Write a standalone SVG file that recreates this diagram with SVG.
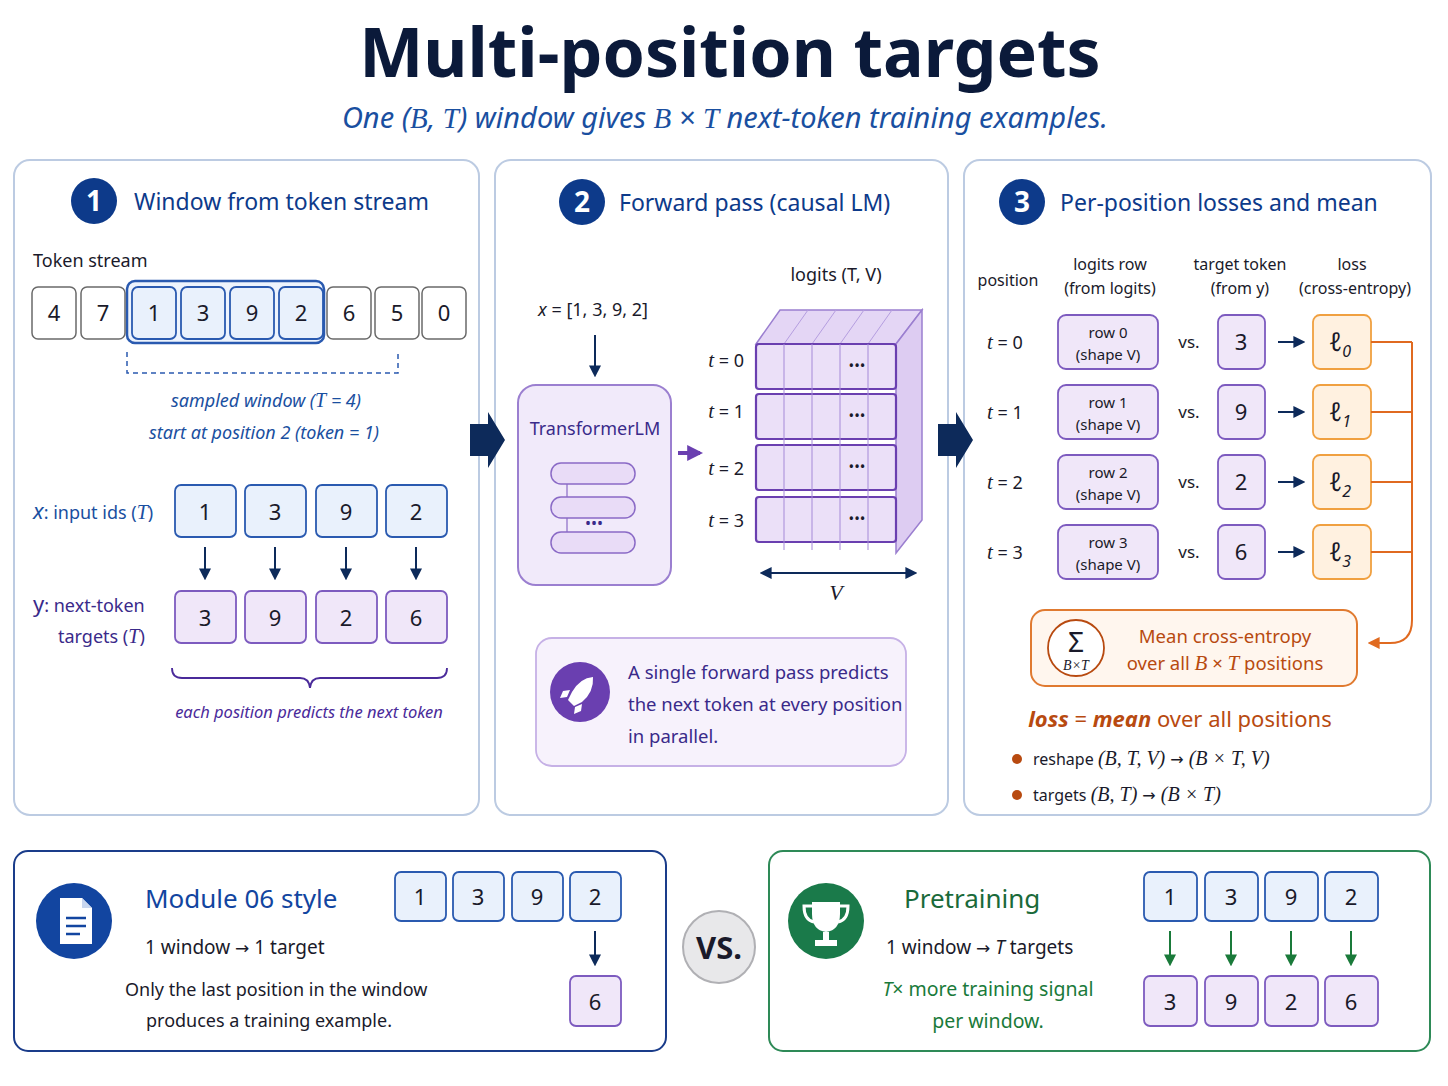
<svg xmlns="http://www.w3.org/2000/svg" width="1448" height="1086" viewBox="0 0 1448 1086">
<defs>
<style>
text{font-family:"Noto Sans","Open Sans",sans-serif;}
.panel{fill:#fff;stroke:#bccbe2;stroke-width:2}
.num{fill:#0d3a8a}
.numt{fill:#fff;font-size:28px;font-weight:bold;text-anchor:middle}
.ptitle{fill:#0d3a8a;font-size:23px}
.tok{fill:#fff;stroke:#6a6a6a;stroke-width:1.5}
.bl{fill:#e9f1fc;stroke:#2a5ab0;stroke-width:1.8}
.pu{fill:#f0e7f9;stroke:#7d5bbf;stroke-width:1.8}
.or{fill:#fff1e0;stroke:#f0a040;stroke-width:1.8}
.bt{font-size:22px;text-anchor:middle;fill:#1a1a2a}
.c{text-anchor:middle}
.lab{font-size:18px;fill:#1a1a2a}
.dark{stroke:#0d2a5a;stroke-width:2;fill:none}
.it{font-style:italic}
.m{font-family:"Liberation Serif",serif;font-style:italic}
.ar{font-family:"DejaVu Sans",sans-serif}
</style>
<marker id="ad" viewBox="0 0 10 10" refX="8" refY="5" markerWidth="6" markerHeight="6" orient="auto-start-reverse"><path d="M0,0L10,5L0,10z" fill="#0d2a5a"/></marker>
<marker id="ag" viewBox="0 0 10 10" refX="8" refY="5" markerWidth="6" markerHeight="6" orient="auto"><path d="M0,0L10,5L0,10z" fill="#1a7a3a"/></marker>
<marker id="ap" viewBox="0 0 10 10" refX="8" refY="5" markerWidth="4" markerHeight="4" orient="auto"><path d="M0,0L10,5L0,10z" fill="#6a3fb0"/></marker>
<marker id="ao" viewBox="0 0 10 10" refX="8" refY="5" markerWidth="6" markerHeight="6" orient="auto"><path d="M0,0L10,5L0,10z" fill="#e06a20"/></marker>
</defs>

<text x="730" y="77" class="c" font-size="68" font-weight="bold" fill="#0b1a3a">Multi-position targets</text>
<text x="725" y="128" class="c it" font-size="29" fill="#1a4fa0">One (<tspan class="m">B</tspan>, <tspan class="m">T</tspan>) window gives <tspan class="m">B</tspan> × <tspan class="m">T</tspan> next-token training examples.</text>

<g id="panel1">
<rect class="panel" x="14" y="160" width="465" height="655" rx="16"/>
<circle class="num" cx="94" cy="201" r="23"/><text class="numt" x="94" y="211">1</text>
<text class="ptitle" x="134" y="210">Window from token stream</text>
<text x="33" y="267" class="lab">Token stream</text>
<rect x="127" y="281" width="197" height="62" rx="8" fill="#eef4fd" stroke="#2a5ab0" stroke-width="2.5"/>
<rect class="tok" x="32" y="287" width="44" height="52" rx="6"/><text class="bt" x="54" y="321">4</text>
<rect class="tok" x="81" y="287" width="44" height="52" rx="6"/><text class="bt" x="103" y="321">7</text>
<rect class="bl" x="132" y="287" width="44" height="52" rx="6"/><text class="bt" x="154" y="321">1</text>
<rect class="bl" x="181" y="287" width="44" height="52" rx="6"/><text class="bt" x="203" y="321">3</text>
<rect class="bl" x="230" y="287" width="44" height="52" rx="6"/><text class="bt" x="252" y="321">9</text>
<rect class="bl" x="279" y="287" width="44" height="52" rx="6"/><text class="bt" x="301" y="321">2</text>
<rect class="tok" x="327" y="287" width="44" height="52" rx="6"/><text class="bt" x="349" y="321">6</text>
<rect class="tok" x="375" y="287" width="44" height="52" rx="6"/><text class="bt" x="397" y="321">5</text>
<rect class="tok" x="422" y="287" width="44" height="52" rx="6"/><text class="bt" x="444" y="321">0</text>
<path d="M127,352V373H398V352" fill="none" stroke="#2a5ab0" stroke-width="1.5" stroke-dasharray="5,4"/>
<text x="266" y="407" class="c lab it" style="fill:#1a4fa0">sampled window (<tspan class="m" font-size="20">T</tspan> = 4)</text>
<text x="264" y="439" class="c lab it" style="fill:#1a4fa0">start at position 2 (token = 1)</text>
<text x="33" y="519" class="lab" style="fill:#1a4fa0"><tspan class="it" font-size="22">x</tspan>: input ids (<tspan class="m" font-size="20">T</tspan>)</text>
<rect class="bl" x="175" y="485" width="61" height="52" rx="6"/><text class="bt" x="205" y="520">1</text>
<rect class="bl" x="245" y="485" width="61" height="52" rx="6"/><text class="bt" x="275" y="520">3</text>
<rect class="bl" x="316" y="485" width="61" height="52" rx="6"/><text class="bt" x="346" y="520">9</text>
<rect class="bl" x="386" y="485" width="61" height="52" rx="6"/><text class="bt" x="416" y="520">2</text>
<text x="33" y="612" class="lab" style="fill:#3a2a8a"><tspan font-size="22">y</tspan>: next-token</text>
<text x="58" y="643" class="lab" style="fill:#3a2a8a">targets (<tspan class="m" font-size="20">T</tspan>)</text>
<rect class="pu" x="175" y="591" width="61" height="52" rx="6"/><text class="bt" x="205" y="626">3</text>
<rect class="pu" x="245" y="591" width="61" height="52" rx="6"/><text class="bt" x="275" y="626">9</text>
<rect class="pu" x="316" y="591" width="61" height="52" rx="6"/><text class="bt" x="346" y="626">2</text>
<rect class="pu" x="386" y="591" width="61" height="52" rx="6"/><text class="bt" x="416" y="626">6</text>
<path d="M172,668Q172,678 182,678H300Q309,678 310,688Q311,678 320,678H437Q447,678 447,668" fill="none" stroke="#4a2a9a" stroke-width="1.8"/>
<text x="309" y="718" class="c it" font-size="16.5" fill="#4a2a9a">each position predicts the next token</text>
</g>

<g id="panel2">
<rect class="panel" x="495" y="160" width="453" height="655" rx="16"/>
<circle class="num" cx="582" cy="202" r="23"/><text class="numt" x="582" y="212">2</text>
<text class="ptitle" x="619" y="211">Forward pass (causal LM)</text>
<text x="593" y="316" class="c lab" font-size="20"><tspan class="it">x</tspan> = [1, 3, 9, 2]</text>
<g id="transformer">
<rect x="518" y="385" width="153" height="200" rx="18" fill="#f1eafa" stroke="#9b7fd0" stroke-width="2"/>
<text x="595" y="435" class="c" font-size="18" fill="#3a2a8a">TransformerLM</text>
<rect x="551" y="463" width="84" height="21" rx="10" fill="#e9dcf7" stroke="#8a6ac6" stroke-width="1.5"/>
<rect x="551" y="497" width="84" height="21" rx="10" fill="#e9dcf7" stroke="#8a6ac6" stroke-width="1.5"/>
<rect x="551" y="532" width="84" height="21" rx="10" fill="#e9dcf7" stroke="#8a6ac6" stroke-width="1.5"/>
<path d="M567,497V484M567,532V518" stroke="#8a6ac6" stroke-width="1.2"/>
<text x="594" y="529" class="c" font-size="16" fill="#3a2a8a">•••</text>
</g>
<g id="logits">
<text x="836" y="281" class="c lab">logits (T, V)</text>
<path d="M756,344L780,310H922L896,344Z" fill="#e4d6f5" stroke="#9b7fd0" stroke-width="1.5"/>
<path d="M896,344L922,310V520L896,553Z" fill="#ddccf2" stroke="#9b7fd0" stroke-width="1.5"/>
<path d="M784,344L808,310M812,344L836,310M840,344L864,310M868,344L892,310" stroke="#b59ee0" stroke-width="1"/>
<g fill="#ebe0f8" stroke="#6a3fb0" stroke-width="2.2">
<rect x="756" y="344" width="140" height="45" rx="3"/>
<rect x="756" y="394" width="140" height="45" rx="3"/>
<rect x="756" y="445" width="140" height="45" rx="3"/>
<rect x="756" y="497" width="140" height="45" rx="3"/>
</g>
<path d="M784,344V550M812,344V550M840,344V550M868,344V550" stroke="#a58ad8" stroke-width="1"/>
<g class="c" font-size="15" fill="#1a1a2a">
<text x="857" y="371">•••</text><text x="857" y="421">•••</text><text x="857" y="472">•••</text><text x="857" y="524">•••</text>
</g>
<g class="lab" font-size="19" text-anchor="end">
<text x="744" y="367"><tspan class="m" font-size="21">t</tspan> = 0</text>
<text x="744" y="418"><tspan class="m" font-size="21">t</tspan> = 1</text>
<text x="744" y="475"><tspan class="m" font-size="21">t</tspan> = 2</text>
<text x="744" y="527"><tspan class="m" font-size="21">t</tspan> = 3</text>
</g>
<text x="836" y="600" class="c m" font-size="22" fill="#1a1a2a">V</text>
</g>
<rect x="536" y="638" width="370" height="128" rx="16" fill="#f7f2fc" stroke="#c6b1e6" stroke-width="1.8"/>
<circle cx="580" cy="692" r="30" fill="#6a3fb0"/>
<path d="M593,677Q580,678 572,692L568,700L574,706L582,702Q594,692 593,677Z M570,690L563,691L560,698L567,697Z M582,704L581,711L574,714L575,707Z" fill="#fff"/>
<g font-size="18.5" fill="#3a2a8a">
<text x="628" y="679">A single forward pass predicts</text>
<text x="628" y="711">the next token at every position</text>
<text x="628" y="743">in parallel.</text>
</g>
</g>

<g id="panel3">
<rect class="panel" x="964" y="160" width="467" height="655" rx="16"/>
<circle class="num" cx="1022" cy="202" r="23"/><text class="numt" x="1022" y="212">3</text>
<text class="ptitle" x="1060" y="211">Per-position losses and mean</text>
<g class="c" font-size="16" fill="#1a1a2a">
<text x="1008" y="286">position</text>
<text x="1110" y="270">logits row</text><text x="1110" y="294">(from logits)</text>
<text x="1240" y="270">target token</text><text x="1240" y="294">(from y)</text>
<text x="1352" y="270">loss</text><text x="1355" y="294">(cross-entropy)</text>
</g>
<g id="rows">
<g class="lab" font-size="19" text-anchor="middle">
<text x="1005" y="349"><tspan class="m" font-size="21">t</tspan> = 0</text>
<text x="1005" y="419"><tspan class="m" font-size="21">t</tspan> = 1</text>
<text x="1005" y="489"><tspan class="m" font-size="21">t</tspan> = 2</text>
<text x="1005" y="559"><tspan class="m" font-size="21">t</tspan> = 3</text>
</g>
<rect class="pu" x="1058" y="315" width="100" height="54" rx="8"/>
<rect class="pu" x="1058" y="385" width="100" height="54" rx="8"/>
<rect class="pu" x="1058" y="455" width="100" height="54" rx="8"/>
<rect class="pu" x="1058" y="525" width="100" height="54" rx="8"/>
<g class="c" font-size="15" fill="#1a1a2a">
<text x="1108" y="338">row 0</text><text x="1108" y="360">(shape V)</text>
<text x="1108" y="408">row 1</text><text x="1108" y="430">(shape V)</text>
<text x="1108" y="478">row 2</text><text x="1108" y="500">(shape V)</text>
<text x="1108" y="548">row 3</text><text x="1108" y="570">(shape V)</text>
</g>
<g class="c" font-size="17" fill="#1a1a2a">
<text x="1189" y="348">vs.</text><text x="1189" y="418">vs.</text><text x="1189" y="488">vs.</text><text x="1189" y="558">vs.</text>
</g>
<rect class="pu" x="1218" y="315" width="47" height="54" rx="7"/><text class="bt" x="1241" y="350">3</text>
<rect class="pu" x="1218" y="385" width="47" height="54" rx="7"/><text class="bt" x="1241" y="420">9</text>
<rect class="pu" x="1218" y="455" width="47" height="54" rx="7"/><text class="bt" x="1241" y="490">2</text>
<rect class="pu" x="1218" y="525" width="47" height="54" rx="7"/><text class="bt" x="1241" y="560">6</text>
<rect class="or" x="1313" y="315" width="58" height="54" rx="7"/>
<rect class="or" x="1313" y="385" width="58" height="54" rx="7"/>
<rect class="or" x="1313" y="455" width="58" height="54" rx="7"/>
<rect class="or" x="1313" y="525" width="58" height="54" rx="7"/>
<g class="c m" font-size="26" fill="#1a1a2a">
<text x="1340" y="351">ℓ<tspan font-size="16" dy="6">0</tspan></text>
<text x="1340" y="421">ℓ<tspan font-size="16" dy="6">1</tspan></text>
<text x="1340" y="491">ℓ<tspan font-size="16" dy="6">2</tspan></text>
<text x="1340" y="561">ℓ<tspan font-size="16" dy="6">3</tspan></text>
</g>
</g>
<rect x="1031" y="610" width="326" height="76" rx="14" fill="#fff6ee" stroke="#e07a30" stroke-width="2"/>
<circle cx="1076" cy="648" r="28" fill="#fff" stroke="#b84a10" stroke-width="1.8"/>
<text x="1076" y="652" class="c" font-size="28" fill="#1a1a2a">Σ</text>
<text x="1076" y="670" class="c m" font-size="14" fill="#1a1a2a">B×T</text>
<text x="1225" y="643" class="c" font-size="18.5" fill="#b84a10">Mean cross-entropy</text>
<text x="1225" y="670" class="c" font-size="18.5" fill="#b84a10">over all <tspan class="m" font-size="21">B</tspan> × <tspan class="m" font-size="21">T</tspan> positions</text>
<text x="1180" y="727" class="c" font-size="22" fill="#b84a10"><tspan class="it" font-weight="bold">loss</tspan> = <tspan class="it" font-weight="bold">mean</tspan> over all positions</text>
<circle cx="1017" cy="759" r="5" fill="#b84a10"/><circle cx="1017" cy="795" r="5" fill="#b84a10"/>
<text x="1033" y="765" font-size="16" fill="#1a1a2a">reshape <tspan class="m" font-size="20">(B, T, V) <tspan class="ar" font-style="normal" font-size="16">→</tspan> (B × T, V)</tspan></text>
<text x="1033" y="801" font-size="16" fill="#1a1a2a">targets <tspan class="m" font-size="20">(B, T) <tspan class="ar" font-style="normal" font-size="16">→</tspan> (B × T)</tspan></text>
</g>

<g id="bottom-left">
<rect x="14" y="851" width="652" height="200" rx="14" fill="#fff" stroke="#1a3c8a" stroke-width="2"/>
<circle cx="74" cy="921" r="38" fill="#1245a0"/>
<path d="M60,898H82L92,908V944H60Z" fill="#fff"/><path d="M82,898V908H92" fill="#c8d6ef"/>
<path d="M66,918H86M66,926H86M66,934H80" stroke="#1245a0" stroke-width="2.5"/>
<text x="145" y="908" font-size="26" fill="#1245a0">Module 06 style</text>
<text x="145" y="954" font-size="19" fill="#1a1a2a">1 window <tspan class="ar" font-size="17">→</tspan> 1 target</text>
<text x="125" y="996" font-size="18" fill="#1a1a2a">Only the last position in the window</text>
<text x="146" y="1027" font-size="18" fill="#1a1a2a">produces a training example.</text>
<rect class="bl" x="395" y="872" width="51" height="49" rx="6"/><text class="bt" x="420" y="905">1</text>
<rect class="bl" x="453" y="872" width="51" height="49" rx="6"/><text class="bt" x="478" y="905">3</text>
<rect class="bl" x="512" y="872" width="51" height="49" rx="6"/><text class="bt" x="537" y="905">9</text>
<rect class="bl" x="570" y="872" width="51" height="49" rx="6"/><text class="bt" x="595" y="905">2</text>
<rect class="pu" x="570" y="976" width="51" height="50" rx="6"/><text class="bt" x="595" y="1010">6</text>
</g>

<g id="vs">
<circle cx="719" cy="947" r="36" fill="#e8e8ea" stroke="#b0b0b4" stroke-width="2"/>
<text x="719" y="959" class="c" font-size="31" font-weight="bold" fill="#1a1a2a">VS.</text>
</g>

<g id="bottom-right">
<rect x="769" y="851" width="661" height="200" rx="14" fill="#fff" stroke="#2e8a57" stroke-width="2"/>
<circle cx="826" cy="921" r="38" fill="#1a7a4a"/>
<path d="M812,906H804Q804,920 814,922 M840,906H848Q848,920 838,922" fill="none" stroke="#fff" stroke-width="3"/>
<path d="M812,902H840V914Q840,930 826,932Q812,930 812,914Z" fill="#fff"/>
<path d="M823,932H829V940H823Z M815,940H837V946H815Z" fill="#fff"/>
<text x="904" y="908" font-size="26" fill="#1a6a3a">Pretraining</text>
<text x="886" y="954" font-size="19" fill="#1a1a2a">1 window <tspan class="ar" font-size="17">→</tspan> <tspan class="it">T</tspan> targets</text>
<text x="988" y="996" class="c" font-size="19.5" fill="#1a7a3a"><tspan class="it">T</tspan>× more training signal</text>
<text x="988" y="1028" class="c" font-size="19.5" fill="#1a7a3a">per window.</text>
<rect class="bl" x="1144" y="872" width="53" height="49" rx="6"/><text class="bt" x="1170" y="905">1</text>
<rect class="bl" x="1205" y="872" width="53" height="49" rx="6"/><text class="bt" x="1231" y="905">3</text>
<rect class="bl" x="1265" y="872" width="53" height="49" rx="6"/><text class="bt" x="1291" y="905">9</text>
<rect class="bl" x="1325" y="872" width="53" height="49" rx="6"/><text class="bt" x="1351" y="905">2</text>
<rect class="pu" x="1144" y="976" width="53" height="50" rx="6"/><text class="bt" x="1170" y="1010">3</text>
<rect class="pu" x="1205" y="976" width="53" height="50" rx="6"/><text class="bt" x="1231" y="1010">9</text>
<rect class="pu" x="1265" y="976" width="53" height="50" rx="6"/><text class="bt" x="1291" y="1010">2</text>
<rect class="pu" x="1325" y="976" width="53" height="50" rx="6"/><text class="bt" x="1351" y="1010">6</text>
</g>

<g id="connectors">
<path d="M470,424H488V412L505,440L488,468V456H470Z" fill="#0d2a5a"/>
<path d="M938,424H956V412L973,440L956,468V456H938Z" fill="#0d2a5a"/>
<g class="dark" marker-end="url(#ad)">
<path d="M205,547V578"/><path d="M275,547V578"/><path d="M346,547V578"/><path d="M416,547V578"/>
<path d="M595,335V375"/>
<path d="M1278,342H1303"/><path d="M1278,412H1303"/><path d="M1278,482H1303"/><path d="M1278,552H1303"/>
<path d="M595,931V964"/>
</g>
<path d="M762,573H915" class="dark" stroke="#2a4a7a" marker-start="url(#ad)" marker-end="url(#ad)"/>
<path d="M678,453H700" stroke="#6a3fb0" stroke-width="4" marker-end="url(#ap)"/>
<g stroke="#1a7a3a" stroke-width="2" marker-end="url(#ag)">
<path d="M1170,931V964"/><path d="M1231,931V964"/><path d="M1291,931V964"/><path d="M1351,931V964"/>
</g>
<path d="M1371,342H1412M1371,412H1412M1371,482H1412M1371,552H1412M1412,342V620Q1412,643 1390,643H1370" fill="none" stroke="#e06a20" stroke-width="2" marker-end="url(#ao)"/>
</g>
</svg>
